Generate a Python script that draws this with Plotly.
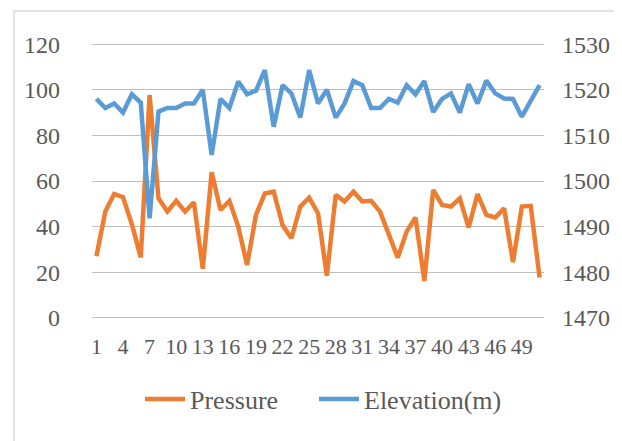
import plotly.graph_objects as go

categories = [1, 2, 3, 4, 5, 6, 7, 8, 9, 10, 11, 12, 13, 14, 15, 16, 17, 18, 19, 20,
              21, 22, 23, 24, 25, 26, 27, 28, 29, 30, 31, 32, 33, 34, 35, 36, 37, 38, 39, 40,
              41, 42, 43, 44, 45, 46, 47, 48, 49, 50, 51]

pressure = [27, 46.6, 54.3, 52.9, 41, 26.5, 97.7, 52.4, 46.6, 51.3,
            46.6, 50.7, 21.5, 63.8, 47.3, 51.3, 40, 23.2, 45.1, 54.5,
            55.3, 40.7, 34.9, 48.8, 52.7, 45.9, 18.5, 53.9, 51, 55.3,
            51, 51.3, 46.6, 36.4, 26.4, 37.8, 44, 16.2, 56.1, 49.5,
            48.8, 52.4, 39.6, 54.3, 45.1, 44, 48, 24.4, 48.8, 49.1,
            17.7]

elevation = [1518, 1516, 1517, 1515, 1519, 1517.2, 1491.8, 1515.2, 1516, 1516,
             1517, 1517, 1520, 1505.7, 1518, 1516, 1521.8, 1519, 1519.8, 1524.3,
             1511.9, 1521, 1519.2, 1513.9, 1524.3, 1517, 1520, 1513.9, 1517, 1521.9,
             1521, 1516, 1516, 1518, 1517.2, 1521, 1519, 1521.9, 1515.1, 1518,
             1519.2, 1515, 1521.2, 1517, 1522, 1519.2, 1518.1, 1518, 1514.1, 1517.8,
             1521]

x_tick_values = [1, 4, 7, 10, 13, 16, 19, 22, 25, 28, 31, 34, 37, 40, 43, 46, 49]
x_tick_labels = ["1", "4", "7", "10", "13", "16", "19", "22", "25", "28", "31",
                 "34", "37", "40", "43", "46", "49"]
left_ticks = [0, 20, 40, 60, 80, 100, 120]
right_ticks = [1470, 1480, 1490, 1500, 1510, 1520, 1530]

FONT = "Liberation Serif"
TXT = "#595959"
GRID = "#BFBFBF"

fig = go.Figure()
fig.add_trace(go.Scatter(x=categories, y=pressure, name="Pressure", mode="lines",
                         line=dict(color="#ED7D31", width=4.5), yaxis="y",
                         legend="legend"))
fig.add_trace(go.Scatter(x=categories, y=elevation, name="Elevation(m)", mode="lines",
                         line=dict(color="#5B9BD5", width=4.5), yaxis="y2",
                         legend="legend2"))

legend_common = dict(orientation="h", xanchor="left", y=-0.29, yanchor="middle",
                     font=dict(family=FONT, size=26, color=TXT), itemwidth=40,
                     bgcolor="rgba(0,0,0,0)")

fig.update_layout(
    width=622, height=441,
    margin=dict(l=84, r=86, t=35, b=130, pad=0),
    paper_bgcolor="white", plot_bgcolor="white",
    font=dict(family=FONT, color=TXT, size=22),
    showlegend=True,
    legend=dict(x=(132 - 84) / 452, **legend_common),
    legend2=dict(x=(306 - 84) / 452, **legend_common),
    xaxis=dict(range=[0.5, 51.5], tickmode="array", tickvals=x_tick_values,
               ticktext=x_tick_labels, tickangle=0, showgrid=False, zeroline=False,
               showline=False, ticks="", ticklabelstandoff=12,
               tickfont=dict(family=FONT, size=22, color=TXT)),
    yaxis=dict(range=[-0.5, 120.5], tickmode="array", tickvals=left_ticks,
               showgrid=True, gridcolor=GRID, gridwidth=1, zeroline=False,
               showline=False, ticks="", ticklabelstandoff=31,
               tickfont=dict(family=FONT, size=24, color=TXT)),
    yaxis2=dict(range=[1469.75, 1530.25], tickmode="array", tickvals=right_ticks,
                overlaying="y", side="right", showgrid=False,
                zeroline=False, showline=False, ticks="", ticklabelstandoff=17,
                tickfont=dict(family=FONT, size=24, color=TXT)),
    shapes=[dict(type="rect", xref="paper", yref="paper",
                 x0=(6 - 84) / 452, x1=(620 - 84) / 452,
                 y0=(311 - 438) / 276, y1=(311 - 3) / 276,
                 line=dict(color="#D9D9D9", width=1.5))],
)

fig.write_html("out.html")
